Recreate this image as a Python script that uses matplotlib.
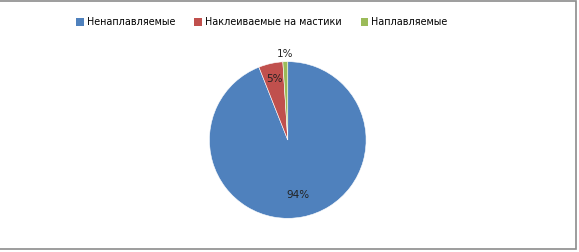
import numpy as np
import matplotlib
matplotlib.use('Agg')
import matplotlib.pyplot as plt
from matplotlib.patches import Rectangle

# Data
categories = ['Ненаплавляемые', 'Наклеиваемые на мастики', 'Наплавляемые']
values = [94, 5, 1]
colors = ['#4f81bd', '#c0504d', '#9bbb59']
label_dist = [0.72, 0.8, 1.1]

fig = plt.figure(figsize=(5.79, 2.52), dpi=100)

# outer gray frame (left edge is cut off in the original)
fig.patches.append(Rectangle((-0.01, 0.012), 1.005, 0.983, transform=fig.transFigure,
                             fill=False, edgecolor='#8c8c8c', linewidth=1.2))

ax = fig.add_axes([0.359, 0.127, 0.276, 0.635])
wedges, texts = ax.pie(values, colors=colors, startangle=90, counterclock=False,
                       wedgeprops=dict(edgecolor='white', linewidth=0.4))
ax.set_aspect('equal')

# percentage labels
for w, v, d in zip(wedges, values, label_dist):
    ang = np.deg2rad((w.theta1 + w.theta2) / 2)
    ax.text(d * np.cos(ang), d * np.sin(ang), f'{v}%', ha='center', va='center',
            fontsize=7.5, color='#222222')

ax.set_xlim(-1.02, 1.02)
ax.set_ylim(-1.02, 1.02)

handles = [Rectangle((0, 0), 1, 1, facecolor=c) for c in colors]
fig.legend(handles, categories, loc='center', bbox_to_anchor=(0.4525, 0.912), ncol=3,
           frameon=False, fontsize=6.9, handlelength=0.8, handleheight=0.8,
           handletextpad=0.3, columnspacing=2.0)

fig.savefig('out.png', dpi=100)
